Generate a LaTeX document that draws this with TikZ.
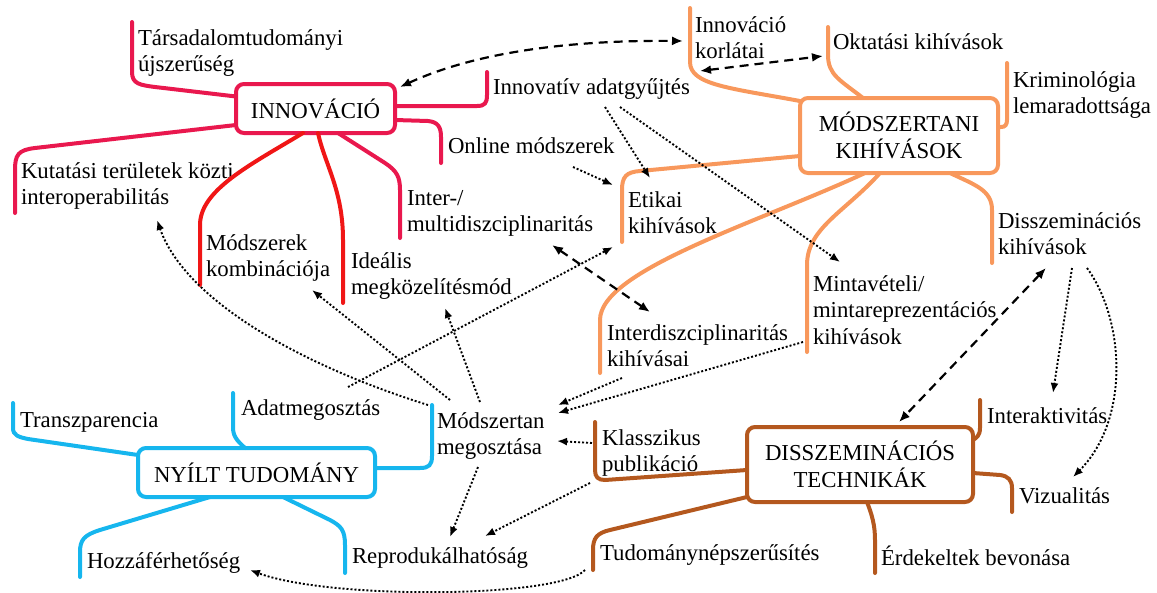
\documentclass[tikz,border=0pt]{standalone}
\usepackage{fontspec}
\setmainfont{Liberation Serif}
\usetikzlibrary{arrows.meta,calc}
\definecolor{crim}{RGB}{233,24,78}
\definecolor{rd}{RGB}{240,22,22}
\definecolor{orng}{RGB}{248,152,92}
\definecolor{cyn}{RGB}{22,182,238}
\definecolor{brn}{RGB}{180,88,30}
\newcommand{\lbfont}{\fontsize{22.8}{26.5}\selectfont}
\tikzset{
  lbl/.style={font=\lbfont, inner sep=0pt, outer sep=0pt, anchor=base west, align=left},
  hub/.style={draw, line width=4pt, rounded corners=8pt, inner sep=0pt, outer sep=0pt,
              font=\lbfont, align=center, fill=white},
  br/.style={line width=4pt, line cap=round},
  dsh/.style={line width=2.2pt, dash pattern=on 9pt off 6pt,
              {Latex[length=11pt,width=9pt]}-{Latex[length=11pt,width=9pt]}},
  dtt/.style={line width=1.9pt, dash pattern=on 2pt off 2pt, -{Latex[length=10pt,width=8pt]}},
}
\begin{document}
\begin{tikzpicture}[x=1pt,y=-1pt]
\useasboundingbox (0,0) rectangle (1157,592);

% hubs
\node[hub, draw=crim, minimum width=159pt, minimum height=49pt] (innov) at (315.5,108.5) {INNOVÁCIÓ};
\node[hub, draw=orng, minimum width=198pt, minimum height=75pt] (modsz) at (899,135.5) {MÓDSZERTANI\\KIHÍVÁSOK};
\node[hub, draw=cyn, minimum width=237pt, minimum height=49pt] (nyilt) at (256.5,472.5) {NYÍLT TUDOMÁNY};
\node[hub, draw=brn, minimum width=226pt, minimum height=75pt] (dissz) at (860,464.5) {DISSZEMINÁCIÓS\\TECHNIKÁK};

% labels (base west = baseline of the last line)
\node[lbl] (tars) at (138,71.5) {Társadalomtudományi\\újszerűség};
\node[lbl] (kut) at (21,204.5) {Kutatási területek közti\\interoperabilitás};
\node[lbl] (inna) at (493,94) {Innovatív adatgyűjtés};
\node[lbl] (onl) at (448,153) {Online módszerek};
\node[lbl] (inter) at (407,231.5) {Inter-/\\multidiszciplinaritás};
\node[lbl] (modk) at (206,276.5) {Módszerek\\kombinációja};
\node[lbl] (ideal) at (351,294.5) {Ideális\\megközelítésmód};
\node[lbl] (etik) at (628,233.5) {Etikai\\kihívások};
\node[lbl] (intk) at (607,366.5) {Interdiszciplinaritás\\kihívásai};
\node[lbl] (minta) at (813,344) {Mintavételi/\\mintareprezentációs\\kihívások};
\node[lbl] (dissk) at (998,254.5) {Disszeminációs\\kihívások};
\node[lbl] (korl) at (695,58.5) {Innováció\\korlátai};
\node[lbl] (okt) at (833,49) {Oktatási kihívások};
\node[lbl] (krim) at (1013,113.5) {Kriminológia\\lemaradottsága};
\node[lbl] (transz) at (20,427) {Transzparencia};
\node[lbl] (adat) at (241,415) {Adatmegosztás};
\node[lbl] (hozza) at (87,568) {Hozzáférhetőség};
\node[lbl] (repro) at (352,563) {Reprodukálhatóság};
\node[lbl] (modm) at (437,454.5) {Módszertan\\megosztása};
\node[lbl] (klassz) at (602,471.5) {Klasszikus\\publikáció};
\node[lbl] (tudom) at (600,560) {Tudománynépszerűsítés};
\node[lbl] (interakt) at (987,423) {Interaktivitás};
\node[lbl] (vizu) at (1019,503) {Vizualitás};
\node[lbl] (erdek) at (881,565) {Érdekeltek bevonása};

% branches INNOVÁCIÓ
\draw[br, crim] ($(innov.west)+(0,-12)$) -- (155,87) .. controls (140,85) and (132,84) .. (132,72) -- (132,22);
\draw[br, crim] ($(innov.west)+(0,16.5)$) -- (35,148) .. controls (18,150) and (15,155) .. (15,170) -- (15,213);
\draw[br, crim] ($(innov.east)+(0,-2.5)$) -- (477,106) .. controls (485,106) and (487,103) .. (487,95) -- (487,72);
\draw[br, crim] ($(innov.east)+(0,11.5)$) -- (428,121) .. controls (438,122) and (441,127) .. (441,137) -- (441,163);
\draw[br, rd] ($(innov.south)+(-12.5,0)$) .. controls (250,165) and (200,190) .. (200,225) -- (200,285);
\draw[br, rd] ($(innov.south)+(2.5,0)$) .. controls (325,165) and (343,190) .. (343,240) -- (343,303);
\draw[br, crim] ($(innov.south)+(22.5,0)$) -- (385,163) .. controls (397,171) and (400,177) .. (400,190) -- (400,238);

% branches MÓDSZERTANI
\draw[br, orng] ($(modsz.west)+(0,-34.5)$) .. controls (730,88) and (690,85) .. (690,62) -- (690,8);
\draw[br, orng] ($(modsz.north)+(-36,0)$) .. controls (840,80) and (828,75) .. (828,55) -- (828,27);
\draw[br, orng] ($(modsz.east)+(0,-8.5)$) -- (1001,127) .. controls (1005,127) and (1007,125) .. (1007,120) -- (1007,63);
\draw[br, orng] ($(modsz.west)+(0,20.5)$) -- (640,171) .. controls (626,172) and (622,177) .. (622,190) -- (622,242);
\draw[br, orng] ($(modsz.south)+(-34,0)$) .. controls (760,222) and (600,270) .. (600,320) -- (600,373);
\draw[br, orng] ($(modsz.south)+(-19,0)$) .. controls (845,212) and (807,228) .. (807,265) -- (807,352);
\draw[br, orng] ($(modsz.south)+(51,0)$) .. controls (975,185) and (992,190) .. (992,210) -- (992,263);

% branches NYÍLT TUDOMÁNY
\draw[br, cyn] ($(nyilt.west)+(0,-17.5)$) -- (28,439) .. controls (18,437) and (13,435) .. (13,428) -- (13,403);
\draw[br, cyn] ($(nyilt.north)+(-11.5,0)$) .. controls (240,443) and (233,438) .. (233,428) -- (233,393);
\draw[br, cyn] ($(nyilt.south)+(-46.5,0)$) -- (100,530) .. controls (84,535) and (80,540) .. (80,552) -- (80,577);
\draw[br, cyn] ($(nyilt.south)+(26.5,0)$) -- (330,520) .. controls (341,526) and (345,530) .. (345,545) -- (345,573);
\draw[br, cyn] ($(nyilt.east)+(0,-4.5)$) -- (420,468) .. controls (429,468) and (432,465) .. (432,456) -- (432,405);

% branches DISSZEMINÁCIÓS
\draw[br, brn] ($(dissz.east)+(0,-24.5)$) .. controls (976,438) and (980,436) .. (980,428) -- (980,400);
\draw[br, brn] ($(dissz.east)+(0,8.5)$) -- (1000,475) .. controls (1008,476) and (1012,480) .. (1012,488) -- (1012,512);
\draw[br, brn] ($(dissz.south)+(7,0)$) .. controls (872,515) and (875,525) .. (875,540) -- (875,573);
\draw[br, brn] ($(dissz.west)+(0,5.5)$) -- (605,480) .. controls (598,480) and (595,477) .. (595,470) -- (595,422);
\draw[br, brn] ($(dissz.west)+(0,32.5)$) -- (610,530) .. controls (597,533) and (593,538) .. (593,550) -- (593,570);

% dashed relations
\draw[dsh] ($(innov.north east)+(5,3)$) .. controls (480,50) and (580,40) .. ($(korl.base west)+(-12,-17.5)$);
\draw[dsh] ($(korl.base west)+(5,12.5)$) -- ($(okt.base west)+(-10,7)$);
\draw[dsh] ($(inter.base west)+(145,13.5)$) -- ($(intk.base west)+(43,-54.5)$);
\draw[dsh] ($(dissk.base west)+(48,13.5)$) -- ($(dissz.north)+(39,-5)$);

% dotted relations
\draw[dtt] ($(inna.base west)+(112,13)$) -- ($(etik.base west)+(22,-55.5)$);
\draw[dtt] ($(inna.base west)+(127,13)$) -- ($(minta.base west)+(27,-82)$);
\draw[dtt] ($(onl.base west)+(125,14)$) -- ($(etik.base west)+(-15,-48.5)$);
\draw[dtt] ($(adat.base west)+(107,-28)$) -- ($(etik.base west)+(-15,13.5)$);
\draw[dtt] ($(modm.base west)+(-9,-49.5)$) .. controls (300,365) and (185,300) .. ($(kut.base west)+(136,15.5)$);
\draw[dtt] ($(modm.base west)+(13,-54.5)$) -- ($(modk.base west)+(106,13.5)$);
\draw[dtt] ($(modm.base west)+(43,-52.5)$) -- ($(ideal.base west)+(94,13.5)$);
\draw[dtt] ($(intk.base west)+(15,11.5)$) -- ($(modm.base west)+(121,-49.5)$);
\draw[dtt] ($(minta.base west)+(-10,-2)$) -- ($(modm.base west)+(121,-41.5)$);
\draw[dtt] ($(klassz.base west)+(-10,-28.5)$) -- ($(modm.base west)+(120,-13.5)$);
\draw[dtt] ($(modm.base west)+(41,12.5)$) -- ($(repro.base west)+(98,-26)$);
\draw[dtt] ($(klassz.base west)+(-12,11.5)$) -- ($(repro.base west)+(133,-27)$);
\draw[dtt] ($(tudom.base west)+(-15,10)$) .. controls (560,598) and (330,600) .. ($(hozza.base west)+(163,2)$);
\draw[dtt] ($(dissk.base west)+(74,13.5)$) -- ($(interakt.base west)+(66,-30)$);
\draw[dtt] ($(dissk.base west)+(89,13.5)$) .. controls (1125,320) and (1130,420) .. ($(vizu.base west)+(54,-26)$);
\end{tikzpicture}
\end{document}
